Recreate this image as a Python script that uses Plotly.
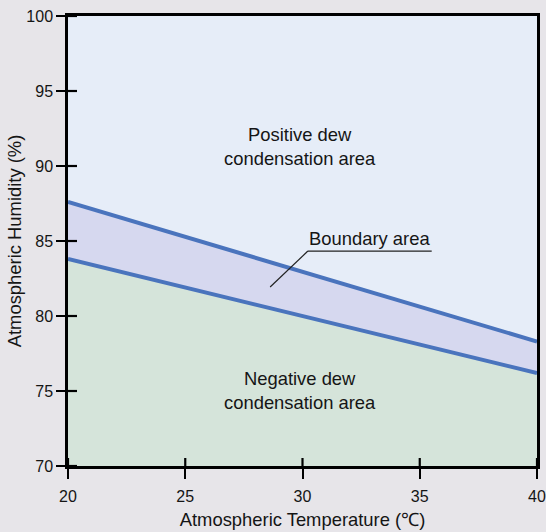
import plotly.graph_objects as go

temps = [20, 40]
upper_limit = [87.6, 78.3]
lower_limit = [83.8, 76.2]
x_ticks = [20, 25, 30, 35, 40]
y_ticks = [70, 75, 80, 85, 90, 95, 100]

line_col = "#4a74bd"
font = "Liberation Sans, Arial, sans-serif"
txt = "#151515"
fs = 18.4

fig = go.Figure()
fig.add_trace(go.Scatter(x=temps, y=lower_limit, mode="lines", fill="tozeroy",
                         fillcolor="#d5e4da", line=dict(color=line_col, width=4),
                         hoverinfo="skip", showlegend=False))
fig.add_trace(go.Scatter(x=temps, y=upper_limit, mode="lines", fill="tonexty",
                         fillcolor="#d6d8ef", line=dict(color=line_col, width=4),
                         hoverinfo="skip", showlegend=False))

fig.add_annotation(x=29.9, y=91.27, text="Positive dew<br>condensation area", showarrow=False,
                   font=dict(size=fs, color=txt, family=font))
fig.add_annotation(x=29.9, y=75.03, text="Negative dew<br>condensation area", showarrow=False,
                   font=dict(size=fs, color=txt, family=font))
fig.add_annotation(x=32.85, y=84.35, text="Boundary area", showarrow=False, yanchor="bottom",
                   font=dict(size=fs, color=txt, family=font))
fig.add_shape(type="line", x0=30.23, y0=84.33, x1=35.51, y1=84.33,
              line=dict(color="#222", width=1.2))
fig.add_shape(type="line", x0=30.23, y0=84.33, x1=28.62, y1=81.93,
              line=dict(color="#222", width=1.2))

# inner half of the crossing tick marks (outer half is drawn by the axes)
for t in x_ticks:
    fig.add_shape(type="line", xref="x", yref="y domain", ysizemode="pixel", yanchor=0,
                  x0=t, x1=t, y0=0, y1=8, line=dict(color="black", width=2.2))
for t in y_ticks:
    fig.add_shape(type="line", yref="y", xref="x domain", xsizemode="pixel", xanchor=0,
                  y0=t, y1=t, x0=0, x1=9, line=dict(color="black", width=2.2))

axis_common = dict(showgrid=False, zeroline=False, showline=True, linecolor="black",
                   linewidth=2.5, mirror=True, tickcolor="black", tickwidth=2.2,
                   tickfont=dict(size=16, color=txt, family=font))

fig.update_layout(
    width=546, height=532,
    margin=dict(l=68, r=9, t=16, b=66, autoexpand=False),
    paper_bgcolor="#e7e5e9",
    plot_bgcolor="#e6edf8",
    xaxis=dict(range=[20, 40], tickvals=x_ticks, ticks="outside", ticklen=10,
               ticklabelstandoff=4,
               title=dict(text="Atmospheric Temperature (℃)", standoff=10,
                          font=dict(size=fs, color=txt, family=font)),
               **axis_common),
    yaxis=dict(range=[70, 100], tickvals=y_ticks, ticks="outside", ticklen=9,
               title=dict(text="Atmospheric Humidity (%)", standoff=0,
                          font=dict(size=fs, color=txt, family=font)),
               **axis_common),
)

fig.write_html("out.html", config={"displayModeBar": False},
               post_script="document.body.style.margin='0';document.body.style.overflow='hidden';")
